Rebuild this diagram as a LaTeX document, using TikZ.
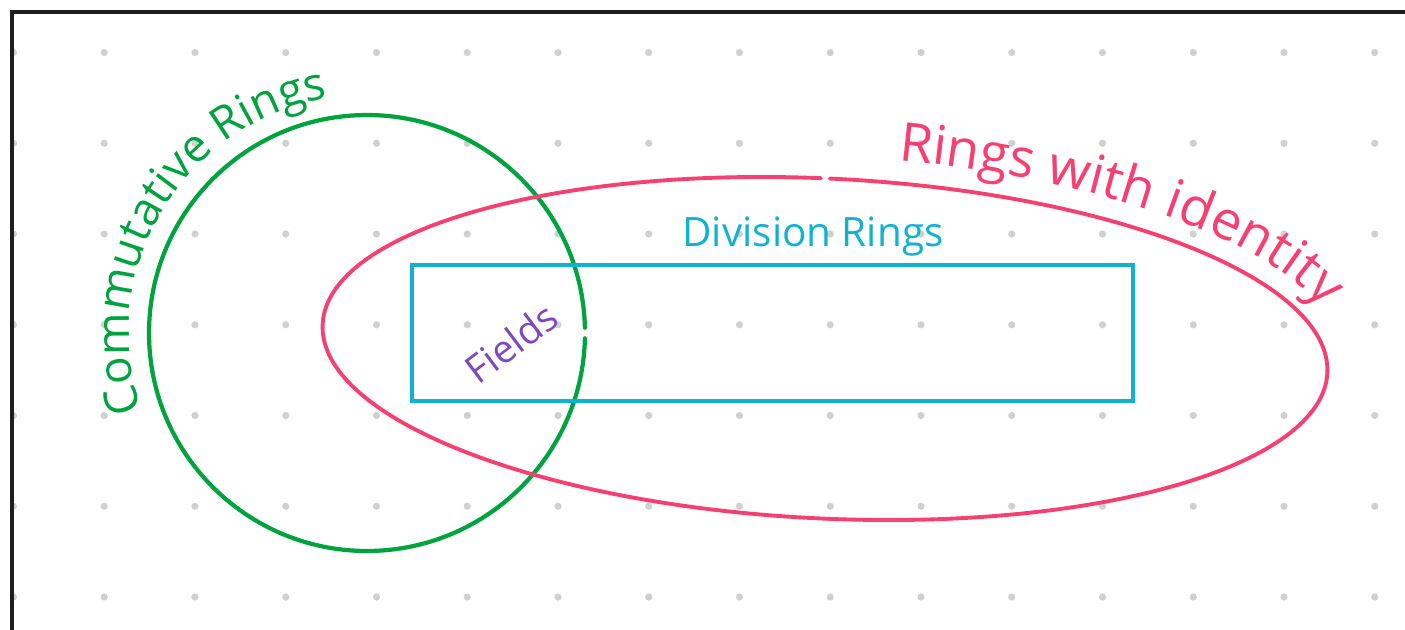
\documentclass[tikz,border=0pt]{standalone}
\usepackage{fontspec}
\setmainfont{Open Sans}
\usepackage{xcolor}
\usetikzlibrary{decorations.text}
\definecolor{ringgreen}{RGB}{0,163,62}
\definecolor{ringpink}{RGB}{247,64,114}
\definecolor{divcyan}{RGB}{16,178,210}
\definecolor{fieldpurple}{RGB}{125,72,196}
\definecolor{dotgray}{RGB}{208,208,208}
\definecolor{framegray}{RGB}{30,30,30}

\begin{document}
\begin{tikzpicture}[x=0.01cm, y=0.01cm,
  setline/.style={line width=1.1pt, line cap=round},
  lab/.style={font=\fontsize{11.5}{13}\selectfont, inner sep=0pt},
  curvelab/.style={decorate, decoration={text along path, text align=left, text={#1}}}
]
\useasboundingbox (0,0) rectangle (1405,629);
\foreach \i in {0,...,15}
  \foreach \j in {0,...,6}
    \fill[dotgray] (13.5+90.75*\i, 576.5-90.75*\j) circle[radius=3.6];
\draw[framegray, line width=1pt] (12,-5) -- (12,617) -- (1410,617);

\coordinate (commcenter) at (367,296);
\draw[ringgreen, setline, line width=1.2pt] (commcenter) ++(1.4:218) arc[start angle=1.4, end angle=358.6, radius=218];
\path[curvelab={|\fontsize{13}{15}\selectfont\color{ringgreen}|Commutative Rings}] (commcenter) ++(199:238) arc[start angle=199, end angle=80, radius=238];

\begin{scope}[shift={(825,280.5)}, rotate=-2.77]
  \draw[ringpink, setline] (91.4:503 and 170) arc[start angle=91.4, end angle=450.4, x radius=503, y radius=170];
  \path[curvelab={|\fontsize{15.3}{17}\selectfont\color{ringpink}|Rings with identity}] (83:526 and 193) arc[start angle=83, end angle=0, x radius=526, y radius=193];
\end{scope}

\draw[divcyan, setline, line cap=butt] (412,364) rectangle (1133,228);
\node[lab, text=divcyan] (divlab) at (813,392) {Division Rings};
\node[lab, text=fieldpurple, rotate=37, font=\fontsize{11}{13}\selectfont] (fieldlab) at (511,286) {Fields};
\end{tikzpicture}
\end{document}
